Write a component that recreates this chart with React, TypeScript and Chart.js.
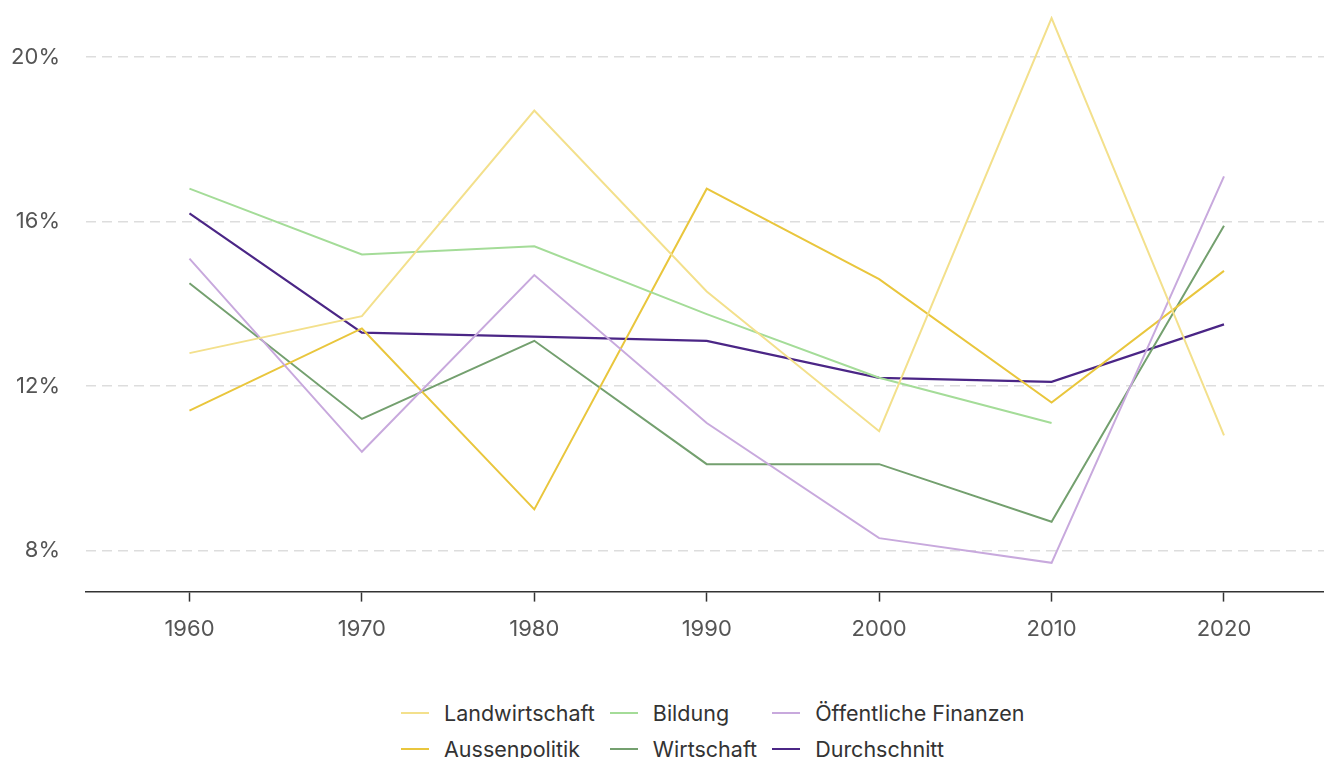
import React, { useEffect, useRef } from "react";
import { Chart, registerables } from "chart.js";

Chart.register(...registerables);

const years = [1960, 1970, 1980, 1990, 2000, 2010, 2020];
const yTickValues = [8, 12, 16, 20];

const landwirtschaft = [12.8, 13.7, 18.7, 14.3, 10.9, 20.95, 10.8];
const bildung = [16.8, 15.2, 15.4, 13.75, 12.2, 11.1, null];
const oeffentlicheFinanzen = [15.1, 10.4, 14.7, 11.1, 8.3, 7.7, 17.1];
const aussenpolitik = [11.4, 13.4, 9.0, 16.8, 14.6, 11.6, 14.8];
const wirtschaft = [14.5, 11.2, 13.1, 10.1, 10.1, 8.7, 15.9];
const durchschnitt = [16.2, 13.3, 13.2, 13.1, 12.2, 12.1, 13.5];

const seriesNames = [
  "Landwirtschaft",
  "Bildung",
  "Öffentliche Finanzen",
  "Aussenpolitik",
  "Wirtschaft",
  "Durchschnitt",
];
const seriesValues = [landwirtschaft, bildung, oeffentlicheFinanzen, aussenpolitik, wirtschaft, durchschnitt];
const seriesColors = ["#f3e08c", "#a4dc98", "#c8a9dd", "#e9c63d", "#74a06f", "#4b2686"];
const seriesWidths = [2, 2, 2, 2, 2, 2.2];

const FONT = "Inter, 'Open Sans', sans-serif";

export default function App() {
  const canvasRef = useRef<HTMLCanvasElement | null>(null);

  useEffect(() => {
    document.body.style.margin = "0";
    const ctx = canvasRef.current;
    if (!ctx) return;
    const chart = new Chart(ctx, {
      type: "line",
      data: {
        datasets: seriesNames.map((name, i) => ({
          label: name,
          data: years.map((yr, j) => ({ x: yr, y: seriesValues[i][j] as any })),
          borderColor: seriesColors[i],
          backgroundColor: seriesColors[i],
          borderWidth: seriesWidths[i],
          pointRadius: 0,
          pointHoverRadius: 0,
          tension: 0,
          fill: false,
        })),
      },
      options: {
        animation: false,
        responsive: false,
        maintainAspectRatio: false,
        layout: { padding: { top: 16, right: 0, bottom: 22, left: 0 } },
        plugins: {
          legend: { display: false },
          tooltip: { enabled: false },
        },
        scales: {
          x: {
            type: "linear",
            min: 1954,
            max: 2025.8,
            afterBuildTicks: (scale: any) => {
              scale.ticks = years.map((v) => ({ value: v }));
            },
            afterFit: (scale: any) => {
              scale.paddingLeft = 0;
              scale.paddingRight = 0;
            },
            grid: {
              display: true,
              drawOnChartArea: false,
              drawTicks: true,
              tickLength: 10,
              tickColor: "#333333",
              tickWidth: 1.5,
            },
            border: { display: true, color: "#333333", width: 1.5 },
            ticks: {
              padding: 15,
              color: "#555555",
              font: { family: FONT, size: 22 },
              callback: (v: any) => String(v),
              maxRotation: 0,
            },
          },
          y: {
            type: "linear",
            min: 7,
            max: 21,
            afterBuildTicks: (scale: any) => {
              scale.ticks = yTickValues.map((v) => ({ value: v }));
            },
            afterFit: (scale: any) => {
              scale.width = 86;
              scale.paddingTop = 0;
              scale.paddingBottom = 0;
            },
            grid: {
              display: true,
              drawOnChartArea: true,
              drawTicks: false,
              color: "#dddddd",
              lineWidth: 1.5,
            },
            border: { display: false, dash: [10, 6] },
            ticks: {
              padding: 26,
              color: "#555555",
              font: { family: FONT, size: 22 },
              callback: (v: any) => v + "%",
            },
          },
        },
      },
    });
    return () => chart.destroy();
  }, []);

  return (
    <div style={{ position: "absolute", left: 0, top: 0, width: 1324, height: 758, overflow: "hidden", background: "#ffffff" }}>
      <canvas ref={canvasRef} width={1324} height={680} style={{ display: "block", width: 1324, height: 680 }} />
      <div
        style={{
          position: "absolute",
          left: 401,
          top: 695,
          display: "grid",
          gridTemplateColumns: "auto auto auto",
          columnGap: 15,
          rowGap: 0,
          fontFamily: FONT,
          fontSize: 21.5,
          color: "#333333",
        }}
      >
        {seriesNames.map((name, i) => (
          <div key={name} style={{ display: "flex", alignItems: "center", height: 36, whiteSpace: "nowrap" }}>
            <span
              style={{
                display: "inline-block",
                width: 28,
                height: 2.5,
                background: seriesColors[i],
                marginRight: 15,
              }}
            />
            <span>{name}</span>
          </div>
        ))}
      </div>
    </div>
  );
}
